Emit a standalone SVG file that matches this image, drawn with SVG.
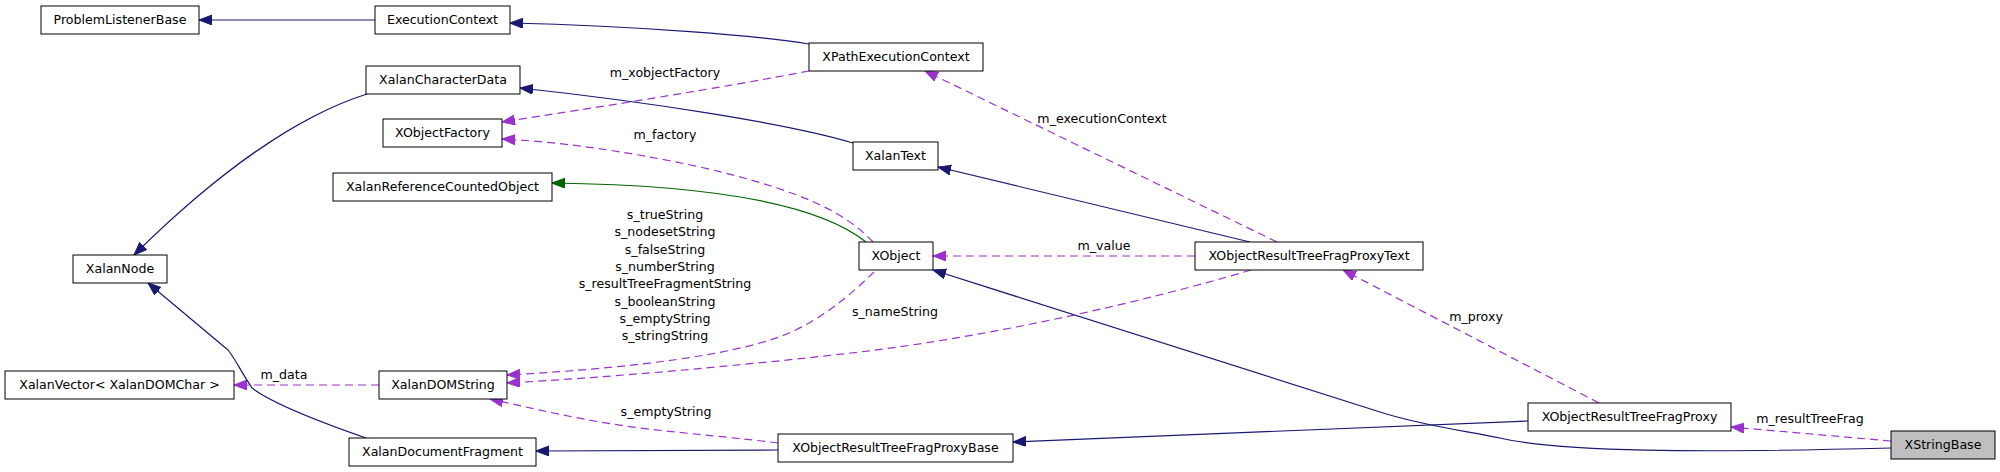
<svg xmlns="http://www.w3.org/2000/svg" width="2000" height="472" viewBox="0 0 2000 472">
<style>
.node rect{fill:#ffffff;stroke:#000000;stroke-width:1}
.node.hl rect{fill:#bfbfbf}
text{font-family:"DejaVu Sans","Liberation Sans",sans-serif;font-size:12.6px;fill:#000000}
.node text{text-anchor:middle}
.lbl{text-anchor:middle}
.inh{fill:none;stroke:#191970;stroke-width:1.2}
.grn{fill:none;stroke:#006400;stroke-width:1.2}
.use{fill:none;stroke:#9a32cd;stroke-width:1.2;stroke-dasharray:8,5}
</style>
<defs>
<marker id="aN" markerUnits="userSpaceOnUse" markerWidth="14" markerHeight="11" refX="13" refY="5" orient="auto"><path d="M0,0 L13,5 L0,10 z" fill="#191970" stroke="#191970"/></marker>
<marker id="aP" markerUnits="userSpaceOnUse" markerWidth="14" markerHeight="11" refX="13" refY="5" orient="auto"><path d="M0,0 L13,5 L0,10 z" fill="#9a32cd" stroke="#9a32cd"/></marker>
<marker id="aG" markerUnits="userSpaceOnUse" markerWidth="14" markerHeight="11" refX="13" refY="5" orient="auto"><path d="M0,0 L13,5 L0,10 z" fill="#006400" stroke="#006400"/></marker>
</defs>
<rect width="2000" height="472" fill="#ffffff"/>
<g id="edges">
<path class="inh" marker-end="url(#aN)" d="M375,20 L199,20"/>
<path class="inh" marker-end="url(#aN)" d="M809,44 C760,36 640,26 510,23"/>
<path class="inh" marker-end="url(#aN)" d="M853,143 C790,124 650,102 520,88"/>
<path class="use" marker-end="url(#aP)" d="M809,71 C720,88 600,107 502,122"/>
<text class="lbl" x="665" y="77">m_xobjectFactory</text>
<path class="use" marker-end="url(#aP)" d="M873,242 C845,212 800,190 700,167 C620,150 560,142 502,139"/>
<text class="lbl" x="665" y="139">m_factory</text>
<path class="grn" marker-end="url(#aG)" d="M866,242 C820,205 720,185 552,183"/>
<path class="inh" marker-end="url(#aN)" d="M1250,242 L938,167"/>
<path class="use" marker-end="url(#aP)" d="M1277,242 L925,71"/>
<text class="lbl" x="1102" y="123">m_executionContext</text>
<path class="use" marker-end="url(#aP)" d="M1195,256 L933,256"/>
<text class="lbl" x="1104" y="250">m_value</text>
<path class="inh" marker-end="url(#aN)" d="M1891,448 C1700,453 1560,452 1500,438 C1460,430 1420,425 1380,412 L933,270"/>
<path class="use" marker-end="url(#aP)" d="M1891,441 L1731,427"/>
<text class="lbl" x="1810" y="423">m_resultTreeFrag</text>
<path class="inh" marker-end="url(#aN)" d="M1528,421 L1013,442"/>
<path class="use" marker-end="url(#aP)" d="M1599,403 L1343,270"/>
<text class="lbl" x="1476" y="321">m_proxy</text>
<path class="use" marker-end="url(#aP)" d="M1251,270 C1150,300 1000,335 860,352 C740,366 600,378 507,383"/>
<text class="lbl" x="895" y="316">s_nameString</text>
<path class="use" marker-end="url(#aP)" d="M874,272 C845,300 810,330 760,343 C700,360 600,370 507,375"/>
<text class="lbl" x="665" y="219">s_trueString</text>
<text class="lbl" x="665" y="236">s_nodesetString</text>
<text class="lbl" x="665" y="253.5">s_falseString</text>
<text class="lbl" x="665" y="271">s_numberString</text>
<text class="lbl" x="665" y="288">s_resultTreeFragmentString</text>
<text class="lbl" x="665" y="305.5">s_booleanString</text>
<text class="lbl" x="665" y="323">s_emptyString</text>
<text class="lbl" x="665" y="340">s_stringString</text>
<path class="use" marker-end="url(#aP)" d="M379,385 L234,385"/>
<text class="lbl" x="284" y="379">m_data</text>
<path class="inh" marker-end="url(#aN)" d="M366,438 C320,422 270,402 252,388 C240,370 236,360 228,350 L148,283"/>
<path class="inh" marker-end="url(#aN)" d="M367,94 C300,115 220,170 134,255"/>
<path class="inh" marker-end="url(#aN)" d="M778,450 L536,451"/>
<path class="use" marker-end="url(#aP)" d="M778,443 C740,438 690,434 640,428 C580,420 540,410 490,399"/>
<text class="lbl" x="666" y="416">s_emptyString</text>
</g>
<g id="n_problem" class="node"><rect x="41" y="6" width="158" height="28"/><text x="120" y="24">ProblemListenerBase</text></g>
<g id="n_exec" class="node"><rect x="375" y="6" width="135" height="28"/><text x="442.5" y="24">ExecutionContext</text></g>
<g id="n_chardata" class="node"><rect x="366" y="66" width="154" height="28"/><text x="443" y="84">XalanCharacterData</text></g>
<g id="n_xofactory" class="node"><rect x="383" y="119" width="119" height="28"/><text x="442.5" y="137">XObjectFactory</text></g>
<g id="n_refcount" class="node"><rect x="333" y="173" width="219" height="28"/><text x="442.5" y="191">XalanReferenceCountedObject</text></g>
<g id="n_xalannode" class="node"><rect x="73" y="255" width="94" height="28"/><text x="120" y="273">XalanNode</text></g>
<g id="n_vector" class="node"><rect x="5" y="371" width="229" height="28"/><text x="119.5" y="389">XalanVector&lt; XalanDOMChar &gt;</text></g>
<g id="n_domstring" class="node"><rect x="379" y="371" width="128" height="28"/><text x="443" y="389">XalanDOMString</text></g>
<g id="n_docfrag" class="node"><rect x="349" y="438" width="187" height="28"/><text x="442.5" y="456">XalanDocumentFragment</text></g>
<g id="n_xpathexec" class="node"><rect x="809" y="43" width="174" height="28"/><text x="896" y="61">XPathExecutionContext</text></g>
<g id="n_xalantext" class="node"><rect x="853" y="142" width="85" height="28"/><text x="895.5" y="160">XalanText</text></g>
<g id="n_xobject" class="node"><rect x="859" y="242" width="74" height="28"/><text x="896" y="260">XObject</text></g>
<g id="n_proxytext" class="node"><rect x="1195" y="242" width="228" height="28"/><text x="1309" y="260">XObjectResultTreeFragProxyText</text></g>
<g id="n_proxybase" class="node"><rect x="778" y="434" width="235" height="28"/><text x="895.5" y="452">XObjectResultTreeFragProxyBase</text></g>
<g id="n_proxy" class="node"><rect x="1528" y="403" width="203" height="28"/><text x="1629.5" y="421">XObjectResultTreeFragProxy</text></g>
<g id="n_xstringbase" class="node hl"><rect x="1891" y="431" width="104" height="28"/><text x="1943" y="449">XStringBase</text></g>
</svg>
